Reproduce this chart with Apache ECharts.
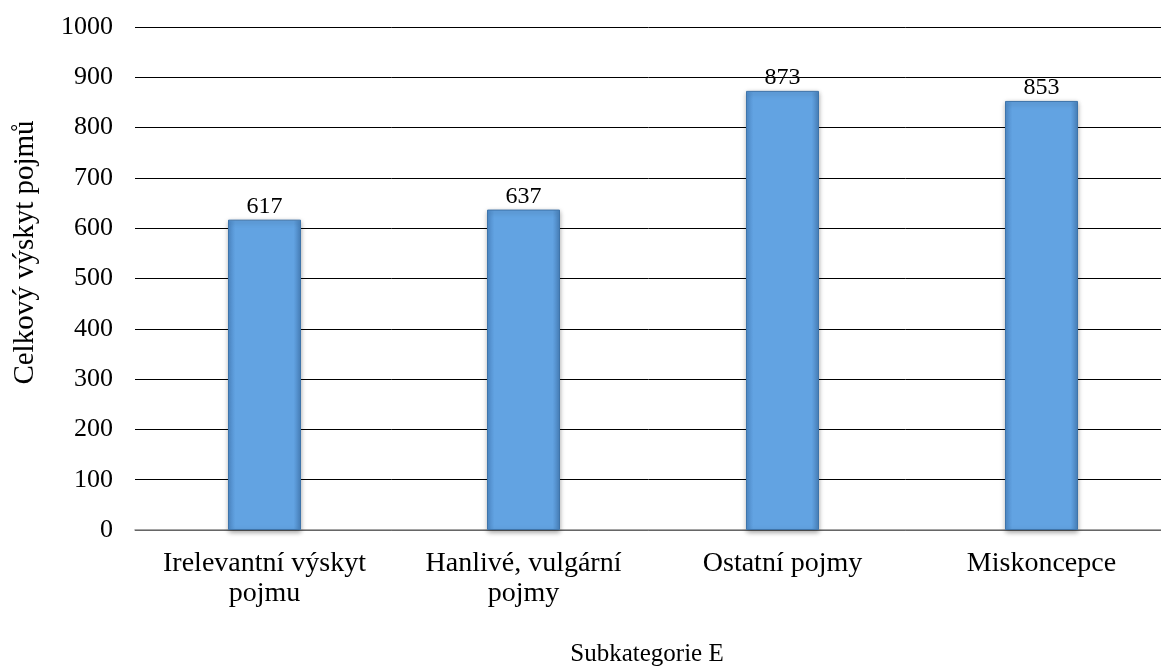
<!DOCTYPE html>
<html><head><meta charset="utf-8">
<script src="https://cdn.jsdelivr.net/npm/echarts@6/dist/echarts.min.js"></script>
<style>html,body{margin:0;padding:0;background:#fff;overflow:hidden}#c{width:1161px;height:671px}</style>
</head><body><div id="c"></div>
<script>
const categories = ['Irelevantní výskyt\npojmu', 'Hanlivé, vulgární\npojmy', 'Ostatní pojmy', 'Miskoncepce'];
const values = [617, 637, 873, 853];
const yTicks = {min: 0, max: 1000, interval: 100};
const FONT = '"Liberation Serif","Times New Roman",serif';
const chart = echarts.init(document.getElementById('c'));
chart.setOption({
  animation: false,
  grid: {left: 135, width: 1036, top: 27, height: 503, containLabel: false, outerBoundsMode: 'none'},
  xAxis: {
    type: 'category', data: categories,
    name: 'Subkategorie E', nameLocation: 'middle', nameGap: 112,
    nameTextStyle: {fontFamily: FONT, fontSize: 25, color: '#000', padding: [0, 12, 0, 0]},
    axisLine: {lineStyle: {color: '#888', width: 1.5}},
    axisTick: {show: false},
    axisLabel: {fontFamily: FONT, fontSize: 28, color: '#000', margin: 19, lineHeight: 30, interval: 0}
  },
  yAxis: {
    type: 'value', min: yTicks.min, max: yTicks.max, interval: yTicks.interval,
    name: 'Celkový výskyt pojmů', nameLocation: 'middle', nameGap: 95, nameRotate: 90,
    nameTextStyle: {fontFamily: FONT, fontSize: 29, color: '#000', padding: [0, 0, 0, 52]},
    axisLine: {show: false}, axisTick: {show: false},
    axisLabel: {fontFamily: FONT, fontSize: 26, color: '#000', margin: 22, formatter: v => String(v)},
    splitLine: {lineStyle: {color: '#000', width: 1}}
  },
  series: [{
    type: 'bar', data: values, barWidth: 73,
    itemStyle: {
      color: {type: 'linear', x: 0, y: 0, x2: 1, y2: 0, colorStops: [
        {offset: 0, color: '#4F8CCB'}, {offset: 0.1, color: '#62A3E2'},
        {offset: 0.9, color: '#62A3E2'}, {offset: 1, color: '#4A84BF'}]},
      borderColor: '#3E74AA', borderWidth: 1,
      shadowColor: 'rgba(0,0,0,0.35)', shadowBlur: 5, shadowOffsetY: 2
    },
    label: {show: true, position: 'top', distance: 1, fontFamily: FONT, fontSize: 24, color: '#000'}
  }]
});
</script></body></html>
